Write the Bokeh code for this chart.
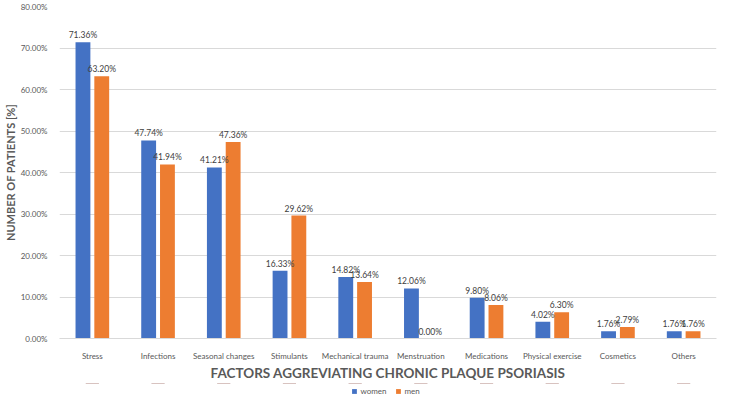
from bokeh.plotting import figure
from bokeh.layouts import column
from bokeh.models import ColumnDataSource, FactorRange, Range1d, PrintfTickFormatter, Legend, LegendItem, FixedTicker
from bokeh.transform import dodge
from bokeh.embed import file_html
from bokeh.resources import INLINE
from bokeh.core.properties import value

categories = ["Stress", "Infections", "Seasonal changes", "Stimulants", "Mechanical trauma",
              "Menstruation", "Medications", "Physical exercise", "Cosmetics", "Others"]
women = [71.36, 47.74, 41.21, 16.33, 14.82, 12.06, 9.80, 4.02, 1.76, 1.76]
men = [63.20, 41.94, 47.36, 29.62, 13.64, 0.00, 8.06, 6.30, 2.79, 1.76]
y_ticks = [0, 10, 20, 30, 40, 50, 60, 70, 80]
series_names = ["women", "men"]

FONT = "Lato"
BLUE = "#4472C4"
ORANGE = "#ED7D31"
GREY = "#595959"

src = ColumnDataSource(dict(
    cat=categories, women=women, men=men,
    wl=[f"{v:.2f}%" for v in women], ml=[f"{v:.2f}%" for v in men],
))

p = figure(x_range=FactorRange(*categories, range_padding=0), y_range=Range1d(0, 80),
           width=718, height=383, output_backend="svg", toolbar_location=None,
           min_border_left=55, min_border_right=2, min_border_top=6, min_border_bottom=38)
p.outline_line_color = None
p.background_fill_color = "white"

rw = p.vbar(x=dodge("cat", -0.143, range=p.x_range), top="women", width=0.226, source=src,
            fill_color=BLUE, line_color=None)
rm = p.vbar(x=dodge("cat", 0.143, range=p.x_range), top="men", width=0.226, source=src,
            fill_color=ORANGE, line_color=None)

p.text(x=dodge("cat", -0.143, range=p.x_range), y="women", text="wl", source=src,
       text_font=value(FONT), text_font_size="8.5px", text_color="#404040",
       text_align="center", text_baseline="bottom", y_offset=-2)
p.text(x=dodge("cat", 0.143, range=p.x_range), y="men", text="ml", source=src,
       text_font=value(FONT), text_font_size="8.5px", text_color="#404040",
       text_align="center", text_baseline="bottom", y_offset=-2)

p.yaxis.ticker = FixedTicker(ticks=y_ticks)
p.yaxis.formatter = PrintfTickFormatter(format="%.2f%%")
p.yaxis.axis_line_color = None
p.yaxis.major_tick_line_color = None
p.yaxis.minor_tick_line_color = None
p.yaxis.major_label_text_font = FONT
p.yaxis.major_label_text_font_size = "8px"
p.yaxis.major_label_text_color = GREY
p.yaxis.major_label_standoff = 6
p.yaxis.axis_label = "NUMBER OF PATIENTS [%]"
p.yaxis.axis_label_text_font = FONT
p.yaxis.axis_label_text_font_style = "bold"
p.yaxis.axis_label_text_font_size = "11px"
p.yaxis.axis_label_text_color = GREY
p.yaxis.axis_label_standoff = 1

p.xaxis.axis_line_color = "#D9D9D9"
p.xaxis.major_tick_line_color = None
p.xaxis.minor_tick_line_color = None
p.xaxis.major_label_text_font = FONT
p.xaxis.major_label_text_font_size = "8px"
p.xaxis.major_label_text_color = GREY
p.xaxis.major_label_standoff = 6
p.xaxis.axis_label = "FACTORS AGGREVIATING CHRONIC PLAQUE PSORIASIS"
p.xaxis.axis_label_text_font = FONT
p.xaxis.axis_label_text_font_style = "bold"
p.xaxis.axis_label_text_font_size = "13.5px"
p.xaxis.axis_label_text_color = GREY
p.xaxis.axis_label_standoff = 1

p.xgrid.grid_line_color = None
p.ygrid.grid_line_color = "#D9D9D9"

# legend strip below the chart (its swatch renderers are zero-height bars outside the view)
lg = figure(width=718, height=16, output_backend="svg", toolbar_location=None,
            x_range=FactorRange(*categories), y_range=Range1d(-2, -1),
            min_border_left=0, min_border_right=0, min_border_top=0, min_border_bottom=0)
lg.axis.visible = False
lg.grid.visible = False
lg.outline_line_color = None
lw = lg.vbar(x="cat", top="women", bottom="women", width=0.2, source=src,
             fill_color=BLUE, line_color=None)
lm = lg.vbar(x="cat", top="men", bottom="men", width=0.2, source=src,
             fill_color=ORANGE, line_color=None)
legend = Legend(items=[LegendItem(label=series_names[0], renderers=[lw]),
                       LegendItem(label=series_names[1], renderers=[lm])],
                orientation="horizontal", location="center",
                label_text_font=FONT, label_text_font_size="8px", label_text_color=GREY,
                glyph_width=6, glyph_height=6, label_standoff=4, spacing=8, label_height=10,
                background_fill_alpha=0, border_line_color=None, padding=2, margin=0)
lg.add_layout(legend)

layout = column(p, lg, spacing=0)
open("out.html", "w").write(file_html(layout, INLINE))
